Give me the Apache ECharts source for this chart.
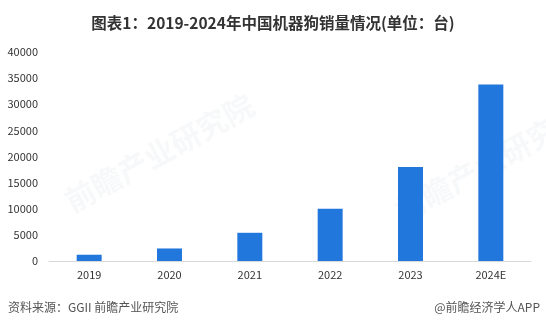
<!DOCTYPE html>
<html lang="zh">
<head>
<meta charset="UTF-8">
<title>2019-2024年中国机器狗销量情况</title>
<script src="https://cdn.jsdelivr.net/npm/echarts@6/dist/echarts.min.js"></script>
<style>
    html, body { margin: 0; padding: 0; background: #fff; }
    #chart { width: 546px; height: 331px; }
</style>
</head>
<body>
<div id="chart"></div>
<script>
    const years = ['2019', '2020', '2021', '2022', '2023', '2024E'];
    const sales = [1200, 2400, 5400, 10000, 18000, 33800];
    const yTicks = [0, 5000, 10000, 15000, 20000, 25000, 30000, 35000, 40000];

    const chart = echarts.init(document.getElementById('chart'));
    const font = '"Noto Sans CJK SC", "Microsoft YaHei", sans-serif';

    chart.setOption({
        animation: false,
        title: {
            text: '图表1：2019-2024年中国机器狗销量情况(单位：台)',
            left: 'center',
            top: 10,
            textStyle: { fontSize: 15.5, fontWeight: 'bold', color: '#333', fontFamily: font }
        },
        grid: { left: 49, right: 15, top: 52, bottom: 70 },
        xAxis: {
            type: 'category',
            data: years,
            axisLine: { lineStyle: { color: '#d9d9d9' } },
            axisTick: { show: false },
            axisLabel: { color: '#333', fontSize: 11, margin: 8, fontFamily: font }
        },
        yAxis: {
            type: 'value',
            min: yTicks[0],
            max: yTicks[yTicks.length - 1],
            interval: yTicks[1] - yTicks[0],
            splitLine: { show: false },
            axisLine: { show: false },
            axisTick: { show: false },
            axisLabel: { color: '#333', fontSize: 11, margin: 11, fontFamily: font, formatter: v => String(v) }
        },
        series: [{
            type: 'bar',
            data: sales,
            barWidth: 25,
            itemStyle: { color: '#2277dd' }
        }],
        graphic: [
            {
                type: 'text', left: 8, top: 301,
                style: { text: '资料来源：GGII 前瞻产业研究院', fill: '#555', font: '12px ' + font }
            },
            {
                type: 'text', right: 6, top: 301,
                style: { text: '@前瞻经济学人APP', fill: '#555', font: '12px ' + font }
            },
            {
                type: 'text', x: 60, y: 190, rotation: 0.5, z: -1,
                style: { text: '前瞻产业研究院', fill: 'rgba(210,214,222,0.18)', font: 'bold 30px ' + font }
            },
            {
                type: 'text', x: 390, y: 200, rotation: 0.5, z: -1,
                style: { text: '前瞻产业研究院', fill: 'rgba(210,214,222,0.18)', font: 'bold 30px ' + font }
            }
        ]
    });
</script>
</body>
</html>
